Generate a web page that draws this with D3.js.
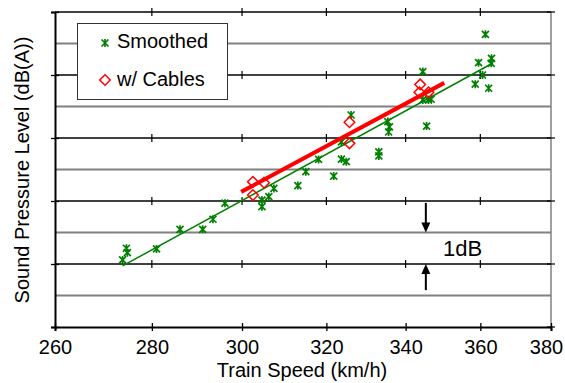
<!DOCTYPE html>
<html><head><meta charset="utf-8">
<script src="https://cdn.jsdelivr.net/npm/d3@7"></script>
<style>body{margin:0;background:#fff}svg{display:block}text{font-family:"Liberation Sans",Arial,sans-serif}</style>
</head><body><svg id="c" width="565" height="383"></svg>
<script>
// Data
const smoothedSpeed = [273.8,274.6,274.8,281.0,286.1,291.1,293.4,296.1,304.6,304.6,306.2,307.4,313.1,315.0,318.1,321.8,323.7,324.9,323.7,326.1,333.1,333.1,335.4,335.8,335.6,345.5,344.5,344.5,346.0,346.7,359.5,361.4,363.1,363.0,360.6,358.6,362.3];
const smoothedLevel = [2.13,2.50,2.36,2.48,3.10,3.10,3.42,3.93,4.03,3.82,4.14,4.40,4.49,4.93,5.32,4.79,5.33,5.25,5.88,6.73,5.56,5.43,6.52,6.35,6.19,6.38,8.11,7.21,7.21,7.23,8.39,9.29,8.53,8.37,8.00,7.71,7.58];
const cablesSpeed = [302.5,302.5,305.1,325.7,325.7,343.8,343.6,346.0];
const cablesLevel = [4.19,4.61,4.58,5.83,6.50,7.70,7.45,7.45];
const smoothedFitSpeed = [273.8,363.5];
const smoothedFitLevel = [1.94,8.38];
const cablesFitSpeed = [299.8,350.2];
const cablesFitLevel = [4.29,7.75];
const xTicks = [260,280,300,320,340,360,380];
const majorLevels = [2,4,6,8,10];
const minorLevels = [1,3,5,7,9];
const seriesNames = ["Smoothed","w/ Cables"];
const annotSpeed = 345.3;
const annotArrows = [[3.94,3],[1.17,2]];
const annotLabel = "1dB";

const svg = d3.select("#c");
const x = d3.scaleLog().domain([260,380]).range([55,551]);
const y = d3.scaleLinear().domain([0,10]).range([327,12]);

// minor gridlines
svg.append("g").selectAll("line").data(minorLevels).join("line")
  .attr("x1",x(260)).attr("x2",x(380)).attr("y1",d=>y(d)).attr("y2",d=>y(d))
  .attr("stroke","#808080").attr("stroke-width",1.8);
// major gridlines
svg.append("g").selectAll("line").data(majorLevels).join("line")
  .attr("x1",x(260)).attr("x2",x(380)).attr("y1",d=>y(d)).attr("y2",d=>y(d))
  .attr("stroke","#000").attr("stroke-width",1.3);
// crosses on major gridlines at x ticks
const crosses = [];
majorLevels.forEach(l=>xTicks.slice(1,-1).forEach(s=>crosses.push([s,l])));
svg.append("g").selectAll("line").data(crosses).join("line")
  .attr("x1",d=>x(d[0])).attr("x2",d=>x(d[0])).attr("y1",d=>y(d[1])-4).attr("y2",d=>y(d[1])+4)
  .attr("stroke","#000").attr("stroke-width",1.2);
// right axis
svg.append("line").attr("x1",x(380)).attr("x2",x(380)).attr("y1",y(10)).attr("y2",y(0))
  .attr("stroke","#808080").attr("stroke-width",1.5);
svg.append("g").selectAll("line").data([0,...majorLevels]).join("line")
  .attr("x1",x(380)-4).attr("x2",x(380)+4).attr("y1",d=>y(d)).attr("y2",d=>y(d))
  .attr("stroke","#000").attr("stroke-width",1.2);

// x axis
const gx = svg.append("g").attr("transform",`translate(0,${y(0)})`)
  .call(d3.axisBottom(x).tickValues(xTicks).tickFormat(d3.format("d")).tickSizeOuter(0).tickSize(4).tickPadding(9));
gx.select(".domain").attr("stroke","#000").attr("stroke-width",2);
gx.selectAll(".tick line").attr("y1",-4).attr("y2",4).attr("stroke-width",1.3);
gx.selectAll(".tick text").attr("font-size",20).attr("fill","#000").attr("font-family","Liberation Sans, Arial, sans-serif")
  .attr("dx",d=>d===380?-5:0);
// y axis
const gy = svg.append("g").attr("transform",`translate(${x(260)},0)`)
  .call(d3.axisLeft(y).tickValues([0,...majorLevels]).tickFormat("").tickSizeOuter(0).tickSize(4));
gy.select(".domain").attr("stroke","#000").attr("stroke-width",2);
gy.selectAll(".tick line").attr("x1",-4).attr("x2",4).attr("stroke-width",1.3);

// axis titles
svg.append("text").attr("x",302).attr("y",377).attr("text-anchor","middle").attr("font-size",20).text("Train Speed (km/h)");
svg.append("text").attr("transform","translate(29,170) rotate(-90)").attr("text-anchor","middle").attr("font-size",20).text("Sound Pressure Level (dB(A))");

const smoothed = smoothedSpeed.map((s,i)=>[s,smoothedLevel[i]]);
const cables = cablesSpeed.map((s,i)=>[s,cablesLevel[i]]);
const line = d3.line().x(d=>x(d[0])).y(d=>y(d[1]));
const star = "M-3.5,-3.5L3.5,3.5M-3.5,3.5L3.5,-3.5M0,-4L0,4";

// green points
svg.append("g").selectAll("path").data(smoothed).join("path")
  .attr("transform",d=>`translate(${x(d[0])},${y(d[1])})`).attr("d",star)
  .attr("stroke","#008000").attr("stroke-width",1.7).attr("fill","none");
// green fit
svg.append("path").datum(smoothedFitSpeed.map((s,i)=>[s,smoothedFitLevel[i]])).attr("d",line)
  .attr("stroke","#008000").attr("stroke-width",1.5).attr("fill","none");
// red fit
svg.append("path").datum(cablesFitSpeed.map((s,i)=>[s,cablesFitLevel[i]])).attr("d",line)
  .attr("stroke","#ff0000").attr("stroke-width",4).attr("fill","none");
// red diamonds
const diamond = "M0,-5.3L5.3,0L0,5.3L-5.3,0Z";
svg.append("g").selectAll("path").data(cables).join("path")
  .attr("transform",d=>`translate(${x(d[0])},${y(d[1])})`).attr("d",diamond)
  .attr("stroke","#ff0000").attr("stroke-width",1.5).attr("fill","none");

// legend
const lg = svg.append("g");
lg.append("rect").attr("x",77.5).attr("y",23.5).attr("width",150).attr("height",76)
  .attr("fill","#fff").attr("stroke","#333").attr("stroke-width",1);
lg.append("path").attr("transform","translate(105,43)").attr("d",star)
  .attr("stroke","#008000").attr("stroke-width",1.7).attr("fill","none");
lg.append("path").attr("transform","translate(105,80)").attr("d",diamond)
  .attr("stroke","#ff0000").attr("stroke-width",1.5).attr("fill","none");
lg.append("text").attr("x",117).attr("y",48).attr("font-size",20).text(seriesNames[0]);
lg.append("text").attr("x",117).attr("y",86).attr("font-size",20).text(seriesNames[1]);

// annotation
const ax = x(annotSpeed);
annotArrows.forEach(([from,to])=>{
  const y1=y(from), y2=y(to), dir = y2>y1?1:-1;
  svg.append("line").attr("x1",ax).attr("x2",ax).attr("y1",y1).attr("y2",y2-dir*8)
    .attr("stroke","#000").attr("stroke-width",2);
  svg.append("path").attr("d",`M${ax},${y2}L${ax-4.5},${y2-dir*10}L${ax+4.5},${y2-dir*10}Z`).attr("fill","#000");
});
svg.append("text").attr("x",443).attr("y",y(2.5)+8).attr("font-size",22).text(annotLabel);
</script></body></html>
